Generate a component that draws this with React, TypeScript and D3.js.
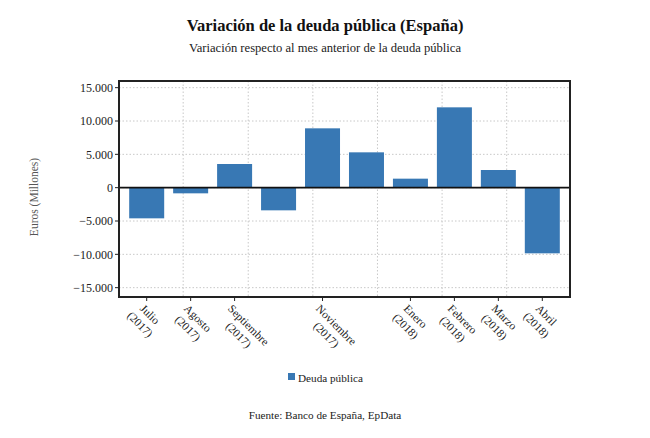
import { useEffect, useRef } from "react";
import * as d3 from "d3";

// meses (Julio 2017 - Abril 2018)
const months = [
  "Julio", "Agosto", "Septiembre", "Octubre", "Noviembre",
  "Diciembre", "Enero", "Febrero", "Marzo", "Abril",
];
const years = ["2017", "2017", "2017", "2017", "2017", "2017", "2018", "2018", "2018", "2018"];
// variación mensual, millones de euros
const values = [-4600, -850, 3550, -3400, 8900, 5300, 1350, 12050, 2650, -9850];
// meses con etiqueta en el eje x
const labeled = [true, true, true, false, true, false, true, true, true, true];
// líneas verticales de la rejilla (en índice de mes)
const xGridAt = [0.83, 2.31, 3.78, 5.25, 6.72, 8.19];
const yTicks = [-15000, -10000, -5000, 0, 5000, 10000, 15000];

const W = 650;
const H = 438;
const FONT = "'Liberation Serif', 'Times New Roman', serif";
const BLUE = "#3878b4";

const App = () => {
  const svgRef = useRef<SVGSVGElement | null>(null);

  useEffect(() => {
    if (!svgRef.current) return;
    const svg = d3.select(svgRef.current);
    svg.selectAll("*").remove();

    const plot = { left: 119, right: 570, top: 81, bottom: 297 };

    // escalas
    const x = d3.scaleLinear().domain([-0.63, values.length - 1 + 0.63]).range([plot.left, plot.right]);
    const y = d3.scaleLinear().domain([-16400, 16000]).range([plot.bottom, plot.top]);
    const barW = 35;

    // títulos
    svg.append("text")
      .attr("x", W / 2).attr("y", 31)
      .attr("text-anchor", "middle")
      .attr("font-family", FONT).attr("font-size", 16.5).attr("font-weight", "bold")
      .attr("fill", "#111")
      .text("Variación de la deuda pública (España)");
    svg.append("text")
      .attr("x", W / 2).attr("y", 52)
      .attr("text-anchor", "middle")
      .attr("font-family", FONT).attr("font-size", 12.6)
      .attr("fill", "#222")
      .text("Variación respecto al mes anterior de la deuda pública");

    // rejilla
    const grid = svg.append("g").attr("stroke", "#c8c8c8").attr("stroke-width", 1).attr("stroke-dasharray", "1.5,2");
    yTicks.forEach((t) => {
      grid.append("line").attr("x1", plot.left).attr("x2", plot.right).attr("y1", y(t)).attr("y2", y(t));
    });
    xGridAt.forEach((g) => {
      grid.append("line").attr("x1", x(g)).attr("x2", x(g)).attr("y1", plot.top).attr("y2", plot.bottom);
    });

    // barras
    svg.append("g")
      .selectAll("rect")
      .data(values)
      .join("rect")
      .attr("x", (_, i) => x(i) - barW / 2)
      .attr("width", barW)
      .attr("y", (d) => y(Math.max(0, d)))
      .attr("height", (d) => Math.abs(y(d) - y(0)))
      .attr("fill", BLUE);

    // línea del cero
    svg.append("line")
      .attr("x1", plot.left).attr("x2", plot.right)
      .attr("y1", y(0)).attr("y2", y(0))
      .attr("stroke", "#111").attr("stroke-width", 1.6);

    // marco
    svg.append("rect")
      .attr("x", plot.left).attr("y", plot.top)
      .attr("width", plot.right - plot.left).attr("height", plot.bottom - plot.top)
      .attr("fill", "none").attr("stroke", "#222").attr("stroke-width", 2);

    // eje y
    const fmt = (v: number) => d3.format(",")(v).replace(/,/g, ".");
    const yAxis = svg.append("g");
    yTicks.forEach((t) => {
      yAxis.append("line")
        .attr("x1", plot.left - 4).attr("x2", plot.left)
        .attr("y1", y(t)).attr("y2", y(t))
        .attr("stroke", "#222").attr("stroke-width", 1);
      yAxis.append("text")
        .attr("x", plot.left - 6).attr("y", y(t)).attr("dy", "0.35em")
        .attr("text-anchor", "end")
        .attr("font-family", FONT).attr("font-size", 12).attr("fill", "#222")
        .text(fmt(t));
    });
    svg.append("text")
      .attr("transform", `translate(38,197) rotate(-90)`)
      .attr("text-anchor", "middle")
      .attr("font-family", FONT).attr("font-size", 11.5).attr("fill", "#555")
      .text("Euros (Millones)");

    // eje x
    const xAxis = svg.append("g");
    months.forEach((m, i) => {
      if (!labeled[i]) return;
      const cx = x(i);
      xAxis.append("line")
        .attr("x1", cx).attr("x2", cx)
        .attr("y1", plot.bottom).attr("y2", plot.bottom + 4)
        .attr("stroke", "#222").attr("stroke-width", 1);
      const g = xAxis.append("g").attr("transform", `translate(${cx - 1},${plot.bottom + 6}) rotate(45)`);
      const t1 = g.append("text")
        .attr("x", 0).attr("y", 9)
        .attr("font-family", FONT).attr("font-size", 11.5).attr("fill", "#222")
        .text(m);
      const w1 = (t1.node() as SVGTextElement).getComputedTextLength();
      g.append("text")
        .attr("x", w1 / 2).attr("y", 23)
        .attr("text-anchor", "middle")
        .attr("font-family", FONT).attr("font-size", 11.5).attr("fill", "#222")
        .text(`(${years[i]})`);
    });

    // leyenda
    svg.append("rect").attr("x", 288).attr("y", 373).attr("width", 7).attr("height", 7).attr("fill", BLUE);
    svg.append("text")
      .attr("x", 298).attr("y", 381.5)
      .attr("font-family", FONT).attr("font-size", 11.2).attr("fill", "#222")
      .text("Deuda pública");

    // fuente
    svg.append("text")
      .attr("x", W / 2).attr("y", 419)
      .attr("text-anchor", "middle")
      .attr("font-family", FONT).attr("font-size", 11.2).attr("fill", "#222")
      .text("Fuente: Banco de España, EpData");
  }, []);

  return (
    <div style={{ position: "absolute", left: 0, top: 0 }}>
      <svg ref={svgRef} width={W} height={H} style={{ display: "block", background: "#fff" }}></svg>
    </div>
  );
};

export default App;
